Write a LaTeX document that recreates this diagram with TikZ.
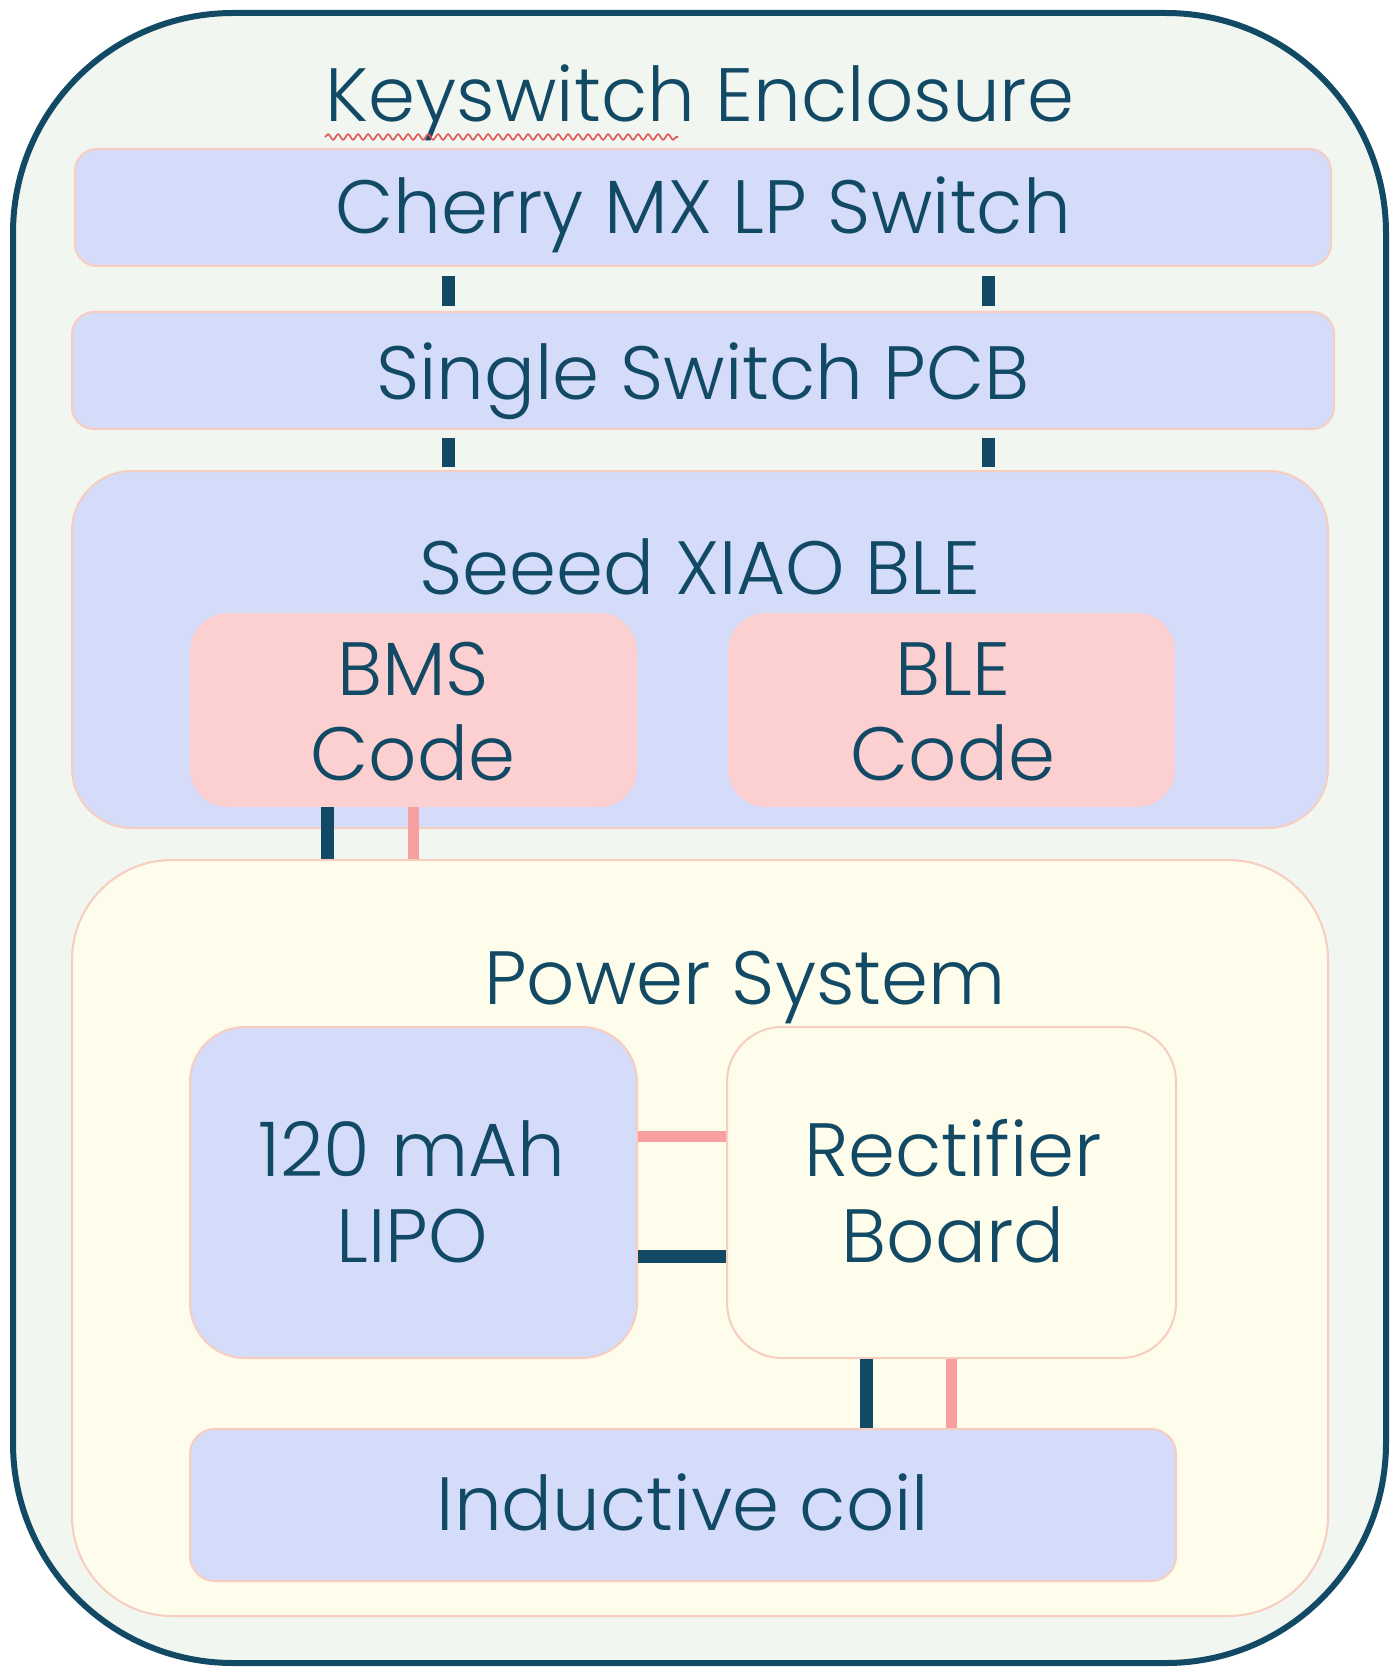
\documentclass[tikz,border=0pt]{standalone}
\usepackage{fontspec}
\setmainfont{Poppins}[UprightFont=* Light]
\usetikzlibrary{decorations.pathmorphing}
\definecolor{dark}{HTML}{124A66}
\definecolor{enclfill}{HTML}{F1F6F0}
\definecolor{bluefill}{HTML}{D4DCFA}
\definecolor{pinkfill}{HTML}{FCD0D0}
\definecolor{creamfill}{HTML}{FEFCEA}
\definecolor{pinkwire}{HTML}{F8A0A0}
\definecolor{edgepink}{HTML}{F6CDBF}
\definecolor{squig}{HTML}{E05555}
\begin{document}
\begin{tikzpicture}[x=1pt,y=-1pt,
  box/.style={draw=edgepink, line width=2pt, minimum width=#1, inner sep=0pt},
  txt/.style={text=dark, font=\fontsize{75.5}{85}\selectfont, anchor=base, inner sep=0pt},
  darkwire/.style={draw=dark, line width=13pt},
  pinkwire/.style={draw=pinkwire, line width=11pt}]
\useasboundingbox (0,0) rectangle (1399,1669);
\fill[white] (0,0) rectangle (1399,1669);
% enclosure
\node[draw=dark, line width=6pt, fill=enclfill, rounded corners=220pt, minimum width=1373pt, minimum height=1650pt] (encl) at (699.5,838) {};
\node[txt] (encltitle) at (700,122) {Keyswitch Enclosure};
\draw[squig, line width=1.6pt, decorate, decoration={snake, amplitude=2.8pt, segment length=10pt}] (325,137) -- (678,137);
% top boxes
\node[box=1256pt, minimum height=117pt, fill=bluefill, rounded corners=22pt] (cherry) at (703,207.5) {};
\node[txt] (cherrytxt) at (703,234) {Cherry MX LP Switch};
\node[box=1262pt, minimum height=117pt, fill=bluefill, rounded corners=22pt] (pcb) at (703,370.5) {};
\node[txt] (pcbtxt) at (703,399) {Single Switch PCB};
% xiao
\node[box=1256pt, minimum height=357pt, fill=bluefill, rounded corners=60pt] (xiao) at (700,649.5) {};
\node[txt] (xiaotxt) at (700,594) {Seeed XIAO BLE};
\node[draw=none, fill=pinkfill, rounded corners=38pt, minimum width=447pt, minimum height=194pt, inner sep=0pt] (bms) at (413.5,710) {};
\node[txt] (bmstxt1) at (413,695) {BMS};
\node[txt] (bmstxt2) at (413,780) {Code};
\node[draw=none, fill=pinkfill, rounded corners=38pt, minimum width=447pt, minimum height=194pt, inner sep=0pt] (ble) at (951.5,710) {};
\node[txt] (bletxt1) at (953,695) {BLE};
\node[txt] (bletxt2) at (953,780) {Code};
% power system
\node[box=1256pt, minimum height=756pt, fill=creamfill, rounded corners=100pt] (power) at (700,1238) {};
\node[txt] (powertxt) at (745,1004) {Power System};
\node[box=447pt, minimum height=331pt, fill=bluefill, rounded corners=55pt] (lipo) at (413.5,1192.5) {};
\node[txt] (lipotxt1) at (412,1176) {120 mAh};
\node[txt] (lipotxt2) at (412,1262) {LIPO};
\node[box=449pt, minimum height=331pt, fill=creamfill, rounded corners=55pt] (rect) at (951.5,1192.5) {};
\node[txt] (recttxt1) at (953,1176) {Rectifier};
\node[txt] (recttxt2) at (953,1262) {Board};
\node[box=986pt, minimum height=152pt, fill=bluefill, rounded corners=25pt] (coil) at (683,1505) {};
\node[txt] (coiltxt) at (683,1530) {Inductive coil};
% wires
\coordinate (wa) at (448,0);
\coordinate (wb) at (988,0);
\draw[darkwire, shorten <=9pt, shorten >=5pt] (cherry.south -| wa) -- (pcb.north -| wa);
\draw[darkwire, shorten <=9pt, shorten >=5pt] (cherry.south -| wb) -- (pcb.north -| wb);
\draw[darkwire, shorten <=8pt, shorten >=3pt] (pcb.south -| wa) -- (xiao.north -| wa);
\draw[darkwire, shorten <=8pt, shorten >=3pt] (pcb.south -| wb) -- (xiao.north -| wb);
\coordinate (wc) at (327,0);
\draw[darkwire] (bms.south -| wc) -- (power.north -| wc);
\draw[pinkwire] (bms.south) -- (power.north -| bms.south);
\coordinate (wd) at (0,1136);
\coordinate (we) at (0,1256);
\draw[pinkwire] (lipo.east |- wd) -- (rect.west |- wd);
\draw[darkwire] (lipo.east |- we) -- (rect.west |- we);
\coordinate (wf) at (866,0);
\draw[darkwire] (rect.south -| wf) -- (coil.north -| wf);
\draw[pinkwire] (rect.south) -- (coil.north -| rect.south);
\end{tikzpicture}
\end{document}
